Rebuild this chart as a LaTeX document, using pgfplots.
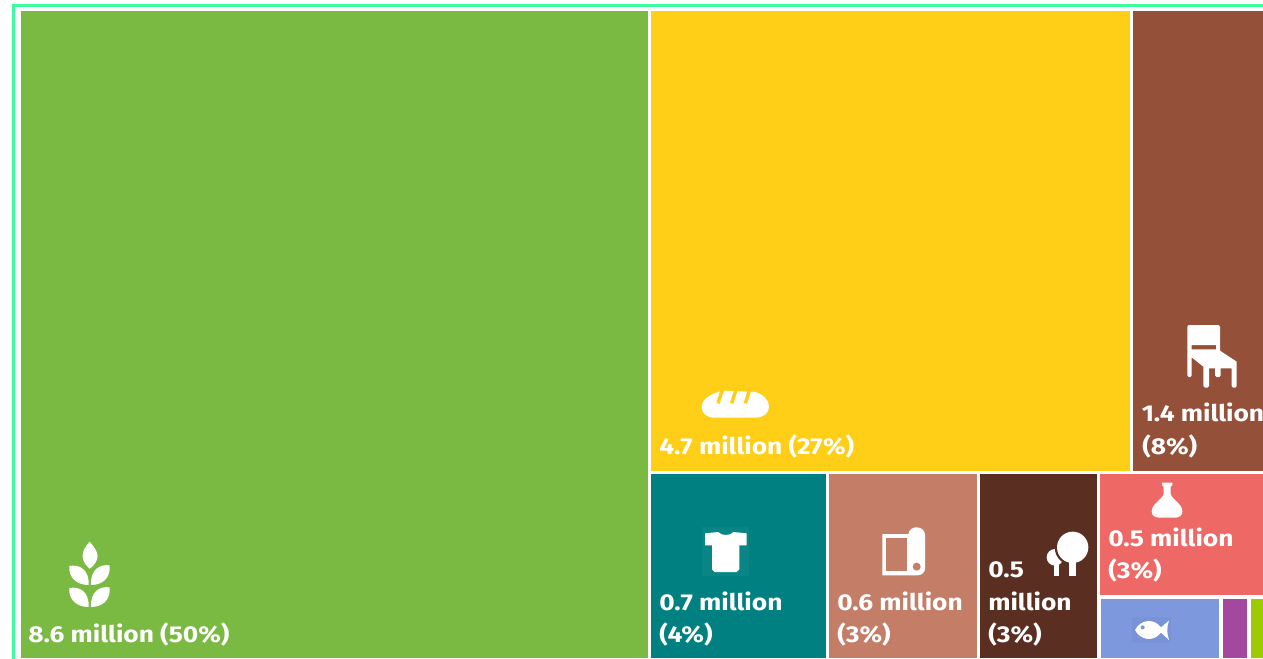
\documentclass[border=0pt]{standalone}
\usepackage{pgfplots}
\pgfplotsset{compat=1.18}
\usepackage{fontspec}
\setmainfont[FakeStretch=1.148]{Fira Sans}
\definecolor{cWheat}{HTML}{7AB942}
\definecolor{cBread}{HTML}{FFCE17}
\definecolor{cWood}{HTML}{95503A}
\definecolor{cTextile}{HTML}{008080}
\definecolor{cPaper}{HTML}{C47D67}
\definecolor{cTree}{HTML}{5A2F22}
\definecolor{cChem}{HTML}{EE6865}
\definecolor{cFish}{HTML}{7D98DD}
\definecolor{cOther}{HTML}{A4479E}
\definecolor{cLime}{HTML}{9CCC00}
\definecolor{cFrame}{HTML}{3DFC9C}
% one tile of the treemap: colour, left, top, right, bottom
\newcommand{\tile}[5]{\addplot[fill=#1,draw=none,forget plot] coordinates {(#2,#3)(#4,#3)(#4,#5)(#2,#5)} --cycle;}
\newcommand{\lbl}[3]{\node[anchor=base west,inner sep=0pt,text=white,font=\fontsize{17.2pt}{20pt}\bfseries] at (#1,#2) {#3};}
\begin{document}
\begin{tikzpicture}
\clip (0,0) rectangle (947.25pt,493.5pt);
\begin{axis}[at={(0,0)},anchor=south west,scale only axis,width=947.25pt,height=493.5pt,
  xmin=0,xmax=1263,ymin=0,ymax=658,y dir=reverse,hide axis,clip=false]
\addplot[draw=cFrame,line width=1.6pt,forget plot] coordinates {(1270,5.5)(13.5,5.5)(13.5,665)};
\tile{cWheat}{20.5}{11}{647.5}{658}
\tile{cBread}{651}{11}{1130}{470.5}
\tile{cWood}{1133}{11}{1263}{470.5}
\tile{cTextile}{651}{474}{826}{658}
\tile{cPaper}{829}{474}{976.5}{658}
\tile{cTree}{980}{474}{1097}{658}
\tile{cChem}{1100}{474}{1263}{594.5}
\tile{cFish}{1101}{599}{1219}{658}
\tile{cOther}{1223}{599}{1247}{658}
\tile{cLime}{1250.5}{599}{1263}{658}
\lbl{28}{642}{8.6 million (50\%)}
\lbl{659}{454}{4.7 million (27\%)}
\lbl{1141.5}{421.5}{1.4 million}
\lbl{1142}{454}{(8\%)}
\lbl{659}{610}{0.7 million}
\lbl{659}{642}{(4\%)}
\lbl{837}{610}{0.6 million}
\lbl{837}{642}{(3\%)}
\lbl{988}{577}{0.5}
\lbl{988}{610}{million}
\lbl{988}{642}{(3\%)}
\lbl{1108}{546}{0.5 million}
\lbl{1108}{578}{(3\%)}
\end{axis}
% wheat ear
\begin{scope}[shift={(0pt,{(658-520)*0.75pt})},x=0.25pt,y=-0.25pt]
\fill[white] (269,65) .. controls (255,80) and (246,95) .. (248,112) .. controls (250,128) and (260,138) .. (269,146) .. controls (280,138) and (291,128) .. (293,108) .. controls (292,92) and (280,78) .. (269,65) -- cycle;
\foreach \yy in {0,66}{
\fill[white,yshift={-\yy*0.25pt}] (208,138) .. controls (240,132) and (268,150) .. (266,195) .. controls (232,195) and (205,175) .. (208,138) -- cycle;
\fill[white,yshift={-\yy*0.25pt}] (329,136) .. controls (297,132) and (271,150) .. (273,195) .. controls (307,195) and (332,175) .. (329,136) -- cycle;
}
\end{scope}
% loaf
\begin{scope}[shift={({640*0.75pt},{(658-370)*0.75pt})},x=0.25pt,y=-0.25pt]
\fill[white] (225,143) .. controls (200,143) and (185,130) .. (185,112) .. controls (185,85) and (215,70) .. (250,62) -- (345,66) .. controls (370,72) and (387,90) .. (387,110) .. controls (387,130) and (370,143) .. (345,143) -- cycle;
\foreach \xx in {0,41,82}{
\draw[cBread,line width=2.6pt,xshift={\xx*0.25pt}] (250,50) -- (234,100);
}
\end{scope}
% chair
\begin{scope}[shift={({1090*0.75pt},{(658-300)*0.75pt})},x=0.25pt,y=-0.25pt]
\fill[white,even odd rule] (292,80) -- (296,75) -- (386,75) -- (390,80) -- (390,152) -- (440,185) -- (440,258) -- (436,263) -- (429,263) -- (425,258) -- (425,205) -- (392,205) -- (392,226) -- (388,231) -- (380,231) -- (375,226) -- (375,205) -- (357,205) -- (357,258) -- (353,263) -- (345,263) -- (340,258) -- (340,200) -- (305,172) -- (305,226) -- (301,231) -- (296,231) -- (292,226) -- cycle
 (305,135) rectangle (378,148);
\end{scope}
% t-shirt and fabric roll
\begin{scope}[shift={({650*0.75pt},{(658-470)*0.75pt})},x=0.25pt,y=-0.25pt]
\fill[cTextile!96!white] (156,170) rectangle (297,318);
\fill[white] (165,190) -- (205,186) .. controls (212,198) and (243,198) .. (250,186) -- (290,190) -- (290,226) -- (268,226) -- (268,298) -- (260,306) -- (194,306) -- (186,298) -- (186,226) -- (165,226) -- cycle;
\fill[white] (697,192) -- (775,192) .. controls (778,176) and (790,172) .. (800,172) .. controls (815,172) and (825,182) .. (825,195) -- (825,295) .. controls (825,308) and (815,316) .. (800,316) -- (697,316) -- cycle;
\fill[cPaper] (708,205) rectangle (770,303);
\fill[cPaper] (800,290) circle[radius=3pt];
\end{scope}
% trees, flask and fish
\begin{scope}[shift={({975*0.75pt},{(658-470)*0.75pt})},x=0.25pt,y=-0.25pt]
\fill[white] (240,262) circle[radius=6.25pt];
\fill[white] (236,275) rectangle (251,318);
\fill[cTree] (293,232) circle[radius=13.5pt];
\fill[white] (293,232) circle[radius=11.75pt];
\fill[white] (282,270) rectangle (303,318);
\fill[white] (561,38) -- (592,38) -- (592,46) -- (587,50) -- (587,72) .. controls (592,90) and (622,100) .. (622,125) .. controls (622,137) and (612,143) .. (600,143) -- (553,143) .. controls (541,143) and (530,137) .. (530,125) .. controls (530,100) and (561,90) .. (566,72) -- (566,50) -- (561,46) -- cycle;
\fill[cFish!97!black] (472,440) rectangle (588,520);
\fill[white] (480,480) .. controls (495,450) and (535,442) .. (558,472) -- (582,452) .. controls (575,470) and (575,490) .. (582,510) -- (558,488) .. controls (535,518) and (495,510) .. (480,480) -- cycle;
\fill[cFish] (503,472) circle[radius=1.5pt];
\end{scope}
\end{tikzpicture}
\end{document}
